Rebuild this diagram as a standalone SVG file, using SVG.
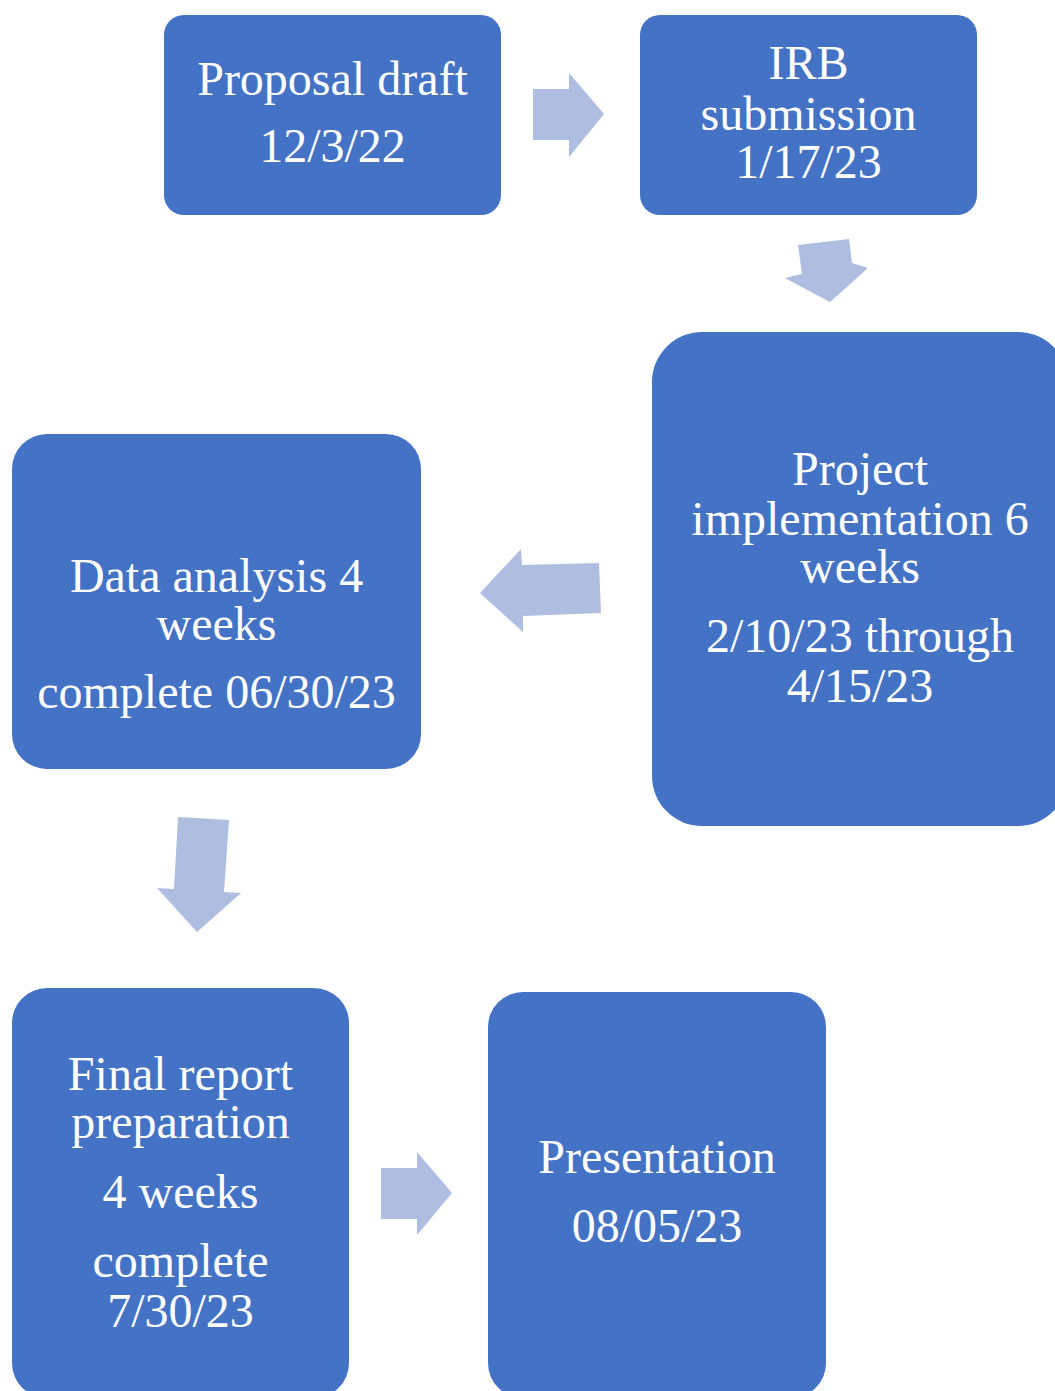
<svg xmlns="http://www.w3.org/2000/svg" width="1055" height="1391" viewBox="0 0 1055 1391">
<style>
.box{fill:#4472C4}
.arr{fill:#AFBDE0}
text{font-family:"Liberation Serif","Times New Roman",serif;font-size:48px;fill:#FFFFFF;text-anchor:middle}
</style>
<rect width="1055" height="1391" fill="#FFFFFF"/>
<g id="connectors">
<polygon class="arr" points="533,89 569,89 569,73 604,114 569,157 569,140 533,140"/>
<polygon class="arr" points="798,245 849,239 852,263 868,268 830,302 785,278 802,274"/>
<polygon class="arr" points="599,563 522,565 521,549 480,593 523,632 523,616 601,613"/>
<polygon class="arr" points="178,817 229,820 224,892 241,893 197,932 157,888 174,889"/>
<polygon class="arr" points="381,1168 417,1168 417,1152 452,1193 417,1235 417,1219 381,1219"/>
</g>
<g id="node-proposal">
<rect class="box" x="164" y="15" width="337" height="200" rx="20"/>
<text x="332.5" y="95">Proposal draft</text>
<text x="332.5" y="162">12/3/22</text>
</g>
<g id="node-irb">
<rect class="box" x="640" y="15" width="337" height="200" rx="20"/>
<text x="808.5" y="79">IRB</text>
<text x="808.5" y="130">submission</text>
<text x="808.5" y="178">1/17/23</text>
</g>
<g id="node-implementation">
<rect class="box" x="652" y="332" width="416" height="494" rx="50"/>
<text x="860" y="485">Project</text>
<text x="860" y="535">implementation 6</text>
<text x="860" y="583">weeks</text>
<text x="860" y="652">2/10/23 through</text>
<text x="860" y="702">4/15/23</text>
</g>
<g id="node-analysis">
<rect class="box" x="12" y="434" width="409" height="335" rx="35"/>
<text x="216.5" y="592">Data analysis 4</text>
<text x="216.5" y="640">weeks</text>
<text x="216.5" y="708">complete 06/30/23</text>
</g>
<g id="node-final-report">
<rect class="box" x="12" y="988" width="337" height="410" rx="35"/>
<text x="180.5" y="1090">Final report</text>
<text x="180.5" y="1138">preparation</text>
<text x="180.5" y="1208">4 weeks</text>
<text x="180.5" y="1277">complete</text>
<text x="180.5" y="1327">7/30/23</text>
</g>
<g id="node-presentation">
<rect class="box" x="488" y="992" width="338" height="406" rx="35"/>
<text x="657" y="1173">Presentation</text>
<text x="657" y="1242">08/05/23</text>
</g>
</svg>
